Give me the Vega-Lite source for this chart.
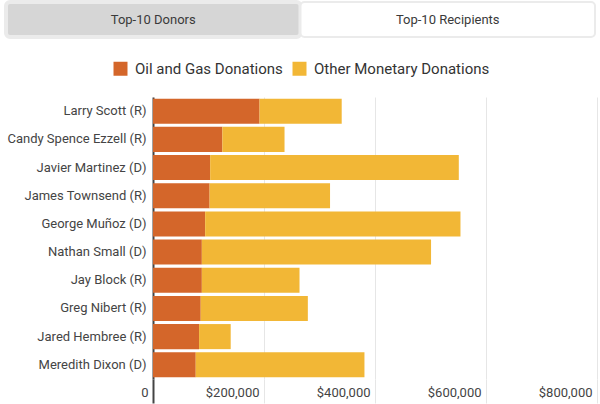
{
  "$schema": "https://vega.github.io/schema/vega-lite/v6.json",
  "padding": {"left": 4, "top": 0, "right": 0, "bottom": 0},
  "config": {"font": "Roboto", "view": {"stroke": null}},
  "spacing": 22,
  "resolve": {"scale": {"color": "independent"}, "legend": {"color": "independent"}},
  "vconcat": [
    {
      "width": 444,
      "height": 35,
      "data": {"values": [
        {"tab": "Top-10 Donors", "state": "inactive"},
        {"tab": "Top-10 Recipients", "state": "active"}
      ]},
      "encoding": {
        "x": {"field": "tab", "type": "nominal", "axis": null, "sort": null,
              "scale": {"paddingInner": 0, "paddingOuter": 0, "range": [-147, 442]}}
      },
      "layer": [
        {
          "mark": {"type": "rect", "cornerRadius": 4, "clip": false},
          "encoding": {
            "fill": {"condition": {"test": "datum.state == 'active'", "value": "#ffffff"}, "value": "#d6d6d6"},
            "stroke": {"value": "#ebebeb"},
            "strokeWidth": {"condition": {"test": "datum.state == 'active'", "value": 2}, "value": 4}
          }
        },
        {
          "mark": {"type": "text", "font": "Roboto", "fontSize": 13, "color": "#3a3a3a"},
          "encoding": {"text": {"field": "tab"}}
        }
      ]
    },
    {
      "width": 444,
      "height": 282,
      "data": {"values": [
        {"name": "Larry Scott (R)", "type": "Oil and Gas Donations", "amount": 192000},
        {"name": "Larry Scott (R)", "type": "Other Monetary Donations", "amount": 148000},
        {"name": "Candy Spence Ezzell (R)", "type": "Oil and Gas Donations", "amount": 125000},
        {"name": "Candy Spence Ezzell (R)", "type": "Other Monetary Donations", "amount": 112000},
        {"name": "Javier Martinez (D)", "type": "Oil and Gas Donations", "amount": 103000},
        {"name": "Javier Martinez (D)", "type": "Other Monetary Donations", "amount": 448000},
        {"name": "James Townsend (R)", "type": "Oil and Gas Donations", "amount": 102000},
        {"name": "James Townsend (R)", "type": "Other Monetary Donations", "amount": 217000},
        {"name": "George Muñoz (D)", "type": "Oil and Gas Donations", "amount": 94000},
        {"name": "George Muñoz (D)", "type": "Other Monetary Donations", "amount": 460000},
        {"name": "Nathan Small (D)", "type": "Oil and Gas Donations", "amount": 88000},
        {"name": "Nathan Small (D)", "type": "Other Monetary Donations", "amount": 413000},
        {"name": "Jay Block (R)", "type": "Oil and Gas Donations", "amount": 88000},
        {"name": "Jay Block (R)", "type": "Other Monetary Donations", "amount": 176000},
        {"name": "Greg Nibert (R)", "type": "Oil and Gas Donations", "amount": 86000},
        {"name": "Greg Nibert (R)", "type": "Other Monetary Donations", "amount": 193000},
        {"name": "Jared Hembree (R)", "type": "Oil and Gas Donations", "amount": 83000},
        {"name": "Jared Hembree (R)", "type": "Other Monetary Donations", "amount": 57000},
        {"name": "Meredith Dixon (D)", "type": "Oil and Gas Donations", "amount": 77000},
        {"name": "Meredith Dixon (D)", "type": "Other Monetary Donations", "amount": 304000}
      ]},
      "mark": {"type": "bar"},
      "encoding": {
        "y": {
          "field": "name", "type": "nominal", "sort": null,
          "scale": {"paddingInner": 0.11, "paddingOuter": 0.06},
          "axis": {"title": null, "ticks": false, "domainColor": "#444444", "domainWidth": 2,
                   "labelPadding": 7, "labelFontSize": 13, "labelColor": "#444444", "labelFont": "Roboto"}
        },
        "x": {
          "field": "amount", "type": "quantitative", "stack": "zero",
          "scale": {"domain": [0, 800000], "nice": false},
          "axis": {
            "title": null,
            "values": [0, 200000, 400000, 600000, 800000],
            "labelExpr": "datum.value == 0 ? '0' : '$' + format(datum.value, ',')",
            "labelAlign": "right",
            "labelOffset": -5,
            "labelPadding": -17,
            "labelFontSize": 13,
            "labelColor": "#444444",
            "labelFont": "Roboto",
            "grid": true,
            "gridColor": "#e6e6e6",
            "domain": false,
            "tickSize": 24,
            "tickColor": {"condition": {"test": "datum.value == 0", "value": "#444444"}, "value": "#e6e6e6"},
            "tickWidth": {"condition": {"test": "datum.value == 0", "value": 2}, "value": 1}
          }
        },
        "color": {
          "field": "type", "type": "nominal",
          "scale": {"domain": ["Oil and Gas Donations", "Other Monetary Donations"], "range": ["#d4662a", "#f2b736"]},
          "legend": {
            "title": null, "orient": "none", "direction": "horizontal",
            "legendX": -40, "legendY": -36,
            "symbolType": "square", "symbolSize": 196, "symbolStrokeWidth": 0,
            "labelFontSize": 15, "labelColor": "#333333", "labelFont": "Roboto", "labelLimit": 400,
            "columnPadding": 9, "labelOffset": 7
          }
        }
      }
    }
  ]
}
